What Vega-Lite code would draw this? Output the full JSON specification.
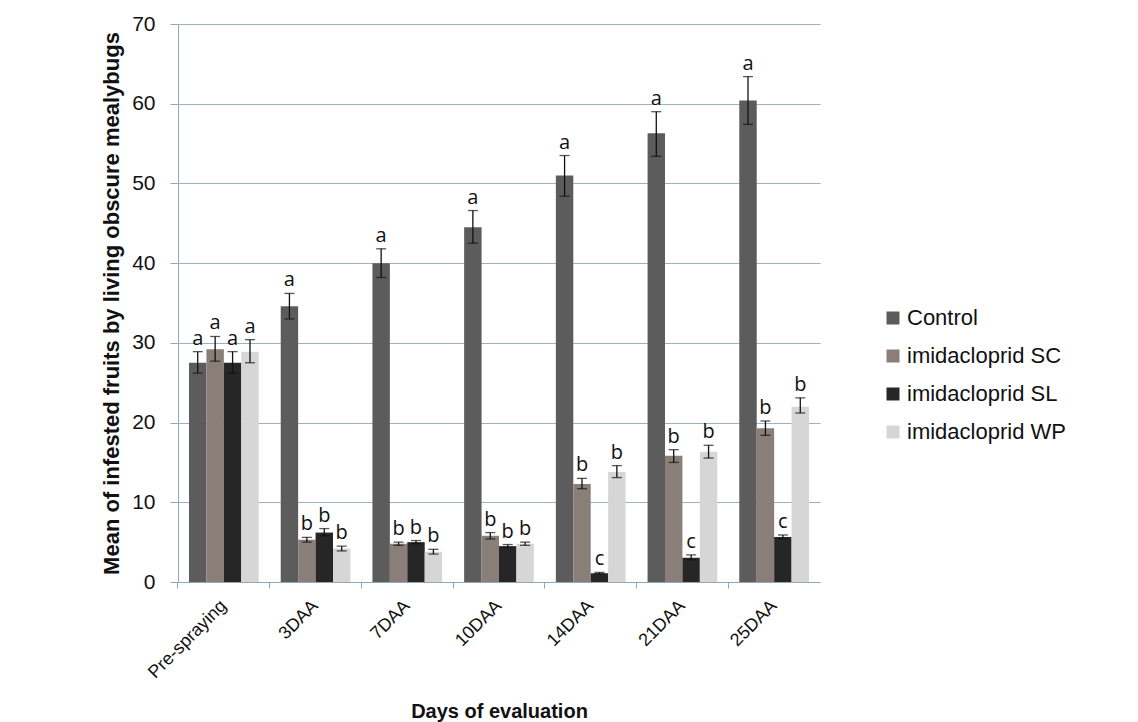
{
  "$schema": "https://vega.github.io/schema/vega-lite/v6.json",
  "width": 642,
  "height": 558,
  "autosize": "none",
  "padding": {"left": 178, "top": 24, "right": 318, "bottom": 140},
  "background": "white",
  "config": {
    "view": {"stroke": null},
    "font": "Liberation Sans"
  },
  "data": {
    "values": [
      {"day": "Pre-spraying", "group": "Control", "mean": 27.5, "lo": 26.2, "hi": 28.9, "letter": "a"},
      {"day": "Pre-spraying", "group": "imidacloprid SC", "mean": 29.2, "lo": 27.7, "hi": 30.8, "letter": "a"},
      {"day": "Pre-spraying", "group": "imidacloprid SL", "mean": 27.5, "lo": 26.2, "hi": 28.9, "letter": "a"},
      {"day": "Pre-spraying", "group": "imidacloprid WP", "mean": 28.9, "lo": 27.5, "hi": 30.4, "letter": "a"},
      {"day": "3DAA", "group": "Control", "mean": 34.6, "lo": 33.0, "hi": 36.2, "letter": "a"},
      {"day": "3DAA", "group": "imidacloprid SC", "mean": 5.3, "lo": 5.0, "hi": 5.6, "letter": "b"},
      {"day": "3DAA", "group": "imidacloprid SL", "mean": 6.2, "lo": 5.8, "hi": 6.7, "letter": "b"},
      {"day": "3DAA", "group": "imidacloprid WP", "mean": 4.2, "lo": 3.9, "hi": 4.5, "letter": "b"},
      {"day": "7DAA", "group": "Control", "mean": 40.0, "lo": 38.2, "hi": 41.8, "letter": "a"},
      {"day": "7DAA", "group": "imidacloprid SC", "mean": 4.8, "lo": 4.6, "hi": 5.0, "letter": "b"},
      {"day": "7DAA", "group": "imidacloprid SL", "mean": 5.0, "lo": 4.8, "hi": 5.2, "letter": "b"},
      {"day": "7DAA", "group": "imidacloprid WP", "mean": 3.8, "lo": 3.5, "hi": 4.1, "letter": "b"},
      {"day": "10DAA", "group": "Control", "mean": 44.5, "lo": 42.5, "hi": 46.6, "letter": "a"},
      {"day": "10DAA", "group": "imidacloprid SC", "mean": 5.8, "lo": 5.4, "hi": 6.2, "letter": "b"},
      {"day": "10DAA", "group": "imidacloprid SL", "mean": 4.5, "lo": 4.3, "hi": 4.7, "letter": "b"},
      {"day": "10DAA", "group": "imidacloprid WP", "mean": 4.8, "lo": 4.6, "hi": 5.0, "letter": "b"},
      {"day": "14DAA", "group": "Control", "mean": 51.0, "lo": 48.4, "hi": 53.5, "letter": "a"},
      {"day": "14DAA", "group": "imidacloprid SC", "mean": 12.3, "lo": 11.7, "hi": 13.0, "letter": "b"},
      {"day": "14DAA", "group": "imidacloprid SL", "mean": 1.1, "lo": 1.0, "hi": 1.2, "letter": "c"},
      {"day": "14DAA", "group": "imidacloprid WP", "mean": 13.8, "lo": 13.1, "hi": 14.6, "letter": "b"},
      {"day": "21DAA", "group": "Control", "mean": 56.3, "lo": 53.4, "hi": 59.0, "letter": "a"},
      {"day": "21DAA", "group": "imidacloprid SC", "mean": 15.85, "lo": 15.0, "hi": 16.6, "letter": "b"},
      {"day": "21DAA", "group": "imidacloprid SL", "mean": 3.05, "lo": 2.8, "hi": 3.4, "letter": "c"},
      {"day": "21DAA", "group": "imidacloprid WP", "mean": 16.35, "lo": 15.55, "hi": 17.15, "letter": "b"},
      {"day": "25DAA", "group": "Control", "mean": 60.4, "lo": 57.4, "hi": 63.4, "letter": "a"},
      {"day": "25DAA", "group": "imidacloprid SC", "mean": 19.3, "lo": 18.4, "hi": 20.2, "letter": "b"},
      {"day": "25DAA", "group": "imidacloprid SL", "mean": 5.65, "lo": 5.4, "hi": 5.9, "letter": "c"},
      {"day": "25DAA", "group": "imidacloprid WP", "mean": 22.0, "lo": 21.2, "hi": 23.1, "letter": "b"}
    ]
  },
  "encoding": {
    "x": {
      "field": "day",
      "type": "nominal",
      "sort": null,
      "scale": {"paddingInner": 0.24, "paddingOuter": 0.12},
      "axis": {
        "title": "Days of evaluation",
        "titleFontSize": 20,
        "titleFontWeight": "bold",
        "titleColor": "#111111",
        "titleY": 135,
        "titleBaseline": "alphabetic",
        "labelAngle": -45,
        "labelFontSize": 18,
        "labelColor": "#111111",
        "labelAlign": "right",
        "labelBaseline": "middle",
        "labelPadding": 15,
        "labelOffset": 0,
        "bandPosition": -0.158,
        "domainColor": "#8fa9ba",
        "tickColor": "#8fa9ba",
        "tickSize": 6,
        "grid": false
      }
    },
    "xOffset": {"field": "group", "type": "nominal", "sort": null}
  },
  "layer": [
    {
      "mark": {"type": "bar"},
      "encoding": {
        "y": {
          "field": "mean",
          "type": "quantitative",
          "scale": {"domain": [0, 70], "nice": false},
          "axis": {
            "title": "Mean of infested fruits by living obscure mealybugs",
            "titleFontSize": 22,
            "titleFontWeight": "bold",
            "titleColor": "#111111",
            "titlePadding": 8,
            "labelFontSize": 21,
            "labelColor": "#111111",
            "labelPadding": 15,
            "values": [0, 10, 20, 30, 40, 50, 60, 70],
            "domainColor": "#8fa9ba",
            "tickColor": "#8fa9ba",
            "tickSize": 8,
            "gridColor": "#9ab3c2",
            "gridWidth": 1.2
          }
        },
        "color": {
          "field": "group",
          "type": "nominal",
          "sort": null,
          "scale": {
            "domain": ["Control", "imidacloprid SC", "imidacloprid SL", "imidacloprid WP"],
            "range": ["#5c5c5c", "#8a7f78", "#262626", "#d6d6d6"]
          },
          "legend": {
            "title": null,
            "orient": "none",
            "legendX": 704,
            "legendY": 283,
            "labelFontSize": 22,
            "labelColor": "#111111",
            "symbolType": "square",
            "symbolSize": 169,
            "symbolStrokeWidth": 0,
            "rowPadding": 16,
            "labelOffset": 3
          }
        }
      }
    },
    {
      "mark": {"type": "rule", "color": "#111111", "strokeWidth": 1.3},
      "encoding": {
        "y": {"field": "lo", "type": "quantitative"},
        "y2": {"field": "hi"}
      }
    },
    {
      "mark": {"type": "tick", "color": "#111111", "size": 10, "thickness": 1.3},
      "encoding": {
        "y": {"field": "lo", "type": "quantitative"}
      }
    },
    {
      "mark": {"type": "tick", "color": "#111111", "size": 10, "thickness": 1.3},
      "encoding": {
        "y": {"field": "hi", "type": "quantitative"}
      }
    },
    {
      "mark": {"type": "text", "font": "Open Sans", "fontSize": 20, "color": "#111111", "baseline": "alphabetic", "dy": -7},
      "encoding": {
        "y": {"field": "hi", "type": "quantitative"},
        "text": {"field": "letter"}
      }
    }
  ]
}
